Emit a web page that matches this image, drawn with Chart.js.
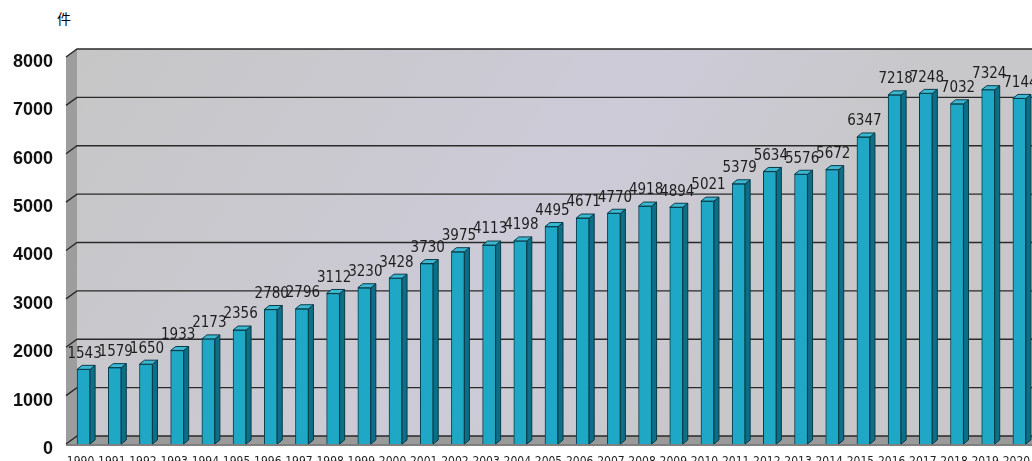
<!DOCTYPE html>
<html>
<head>
<meta charset="utf-8">
<script src="https://cdn.jsdelivr.net/npm/chart.js@4"></script>
<style>
  html, body { margin: 0; padding: 0; background: #fff; overflow: hidden; width: 1032px; height: 461px; }
  #wrap { position: absolute; left: 0; top: 0; width: 1045px; height: 470px; }
  #unit { position: absolute; left: 57px; top: 8px; font: 14px "Noto Sans CJK JP", sans-serif; color: #000; }
</style>
</head>
<body>
<div id="unit">件</div>
<div id="wrap"><canvas id="chart"></canvas></div>
<script>
// ===== DATA =====
const years = ['1990', '1991', '1992', '1993', '1994', '1995', '1996', '1997', '1998', '1999',
               '2000', '2001', '2002', '2003', '2004', '2005', '2006', '2007', '2008', '2009',
               '2010', '2011', '2012', '2013', '2014', '2015', '2016', '2017', '2018', '2019', '2020'];
const counts = [1543, 1579, 1650, 1933, 2173, 2356, 2780, 2796, 3112, 3230,
                3428, 3730, 3975, 4113, 4198, 4495, 4671, 4770, 4918, 4894,
                5021, 5379, 5634, 5576, 5672, 6347, 7218, 7248, 7032, 7324, 7144];
const yTicks = [0, 1000, 2000, 3000, 4000, 5000, 6000, 7000, 8000];

// depth of the walls and of the bars (pseudo 3D)
const WALL_DX = 11, WALL_DY = -8;
const BAR_DX = 5, BAR_DY = -4;
const NARROW = '"Liberation Sans Narrow", "DejaVu Sans Condensed", sans-serif';

const wallPlugin = {
    id: 'wall3d',
    beforeDatasetsDraw(chart) {
        const { ctx, chartArea, scales } = chart;
        const y = scales.y;
        const left = chartArea.left - 2;
        const right = chartArea.right + 20;
        const top = y.getPixelForValue(8000);
        const base = y.getPixelForValue(0);
        ctx.save();

        // back wall
        const g = ctx.createLinearGradient(left, top, left + 600, base);
        g.addColorStop(0, '#c6c6c6');
        g.addColorStop(0.4, '#cac9d0');
        g.addColorStop(0.7, '#cdcbd8');
        g.addColorStop(1, '#c8c8cb');
        ctx.fillStyle = g;
        ctx.fillRect(left + WALL_DX, top + WALL_DY, right - left, base - top);

        // left side wall
        ctx.fillStyle = '#9d9d9d';
        ctx.beginPath();
        ctx.moveTo(left, top);
        ctx.lineTo(left + WALL_DX, top + WALL_DY);
        ctx.lineTo(left + WALL_DX, base + WALL_DY);
        ctx.lineTo(left, base);
        ctx.closePath();
        ctx.fill();

        // floor
        ctx.fillStyle = '#9a9a9a';
        ctx.beginPath();
        ctx.moveTo(left, base);
        ctx.lineTo(left + WALL_DX, base + WALL_DY);
        ctx.lineTo(right, base + WALL_DY);
        ctx.lineTo(right, base);
        ctx.closePath();
        ctx.fill();

        // grid lines on the back wall
        ctx.strokeStyle = '#2a2a2a';
        ctx.lineWidth = 1.4;
        yTicks.forEach(v => {
            const py = y.getPixelForValue(v);
            ctx.beginPath();
            ctx.moveTo(left, py);
            ctx.lineTo(left + WALL_DX, py + WALL_DY);
            ctx.lineTo(right, py + WALL_DY);
            ctx.stroke();
        });
        ctx.strokeStyle = '#555';
        ctx.beginPath();
        ctx.moveTo(left, base + 1);
        ctx.lineTo(right, base + 1);
        ctx.stroke();
        ctx.restore();
    },
    afterDatasetsDraw(chart) {
        const { ctx } = chart;
        const meta = chart.getDatasetMeta(0);
        ctx.save();
        meta.data.forEach((bar, i) => {
            const half = bar.width / 2;
            const x0 = bar.x - half, x1 = bar.x + half;
            const yt = bar.y, yb = bar.base;

            // side face
            ctx.fillStyle = '#0c6f87';
            ctx.strokeStyle = '#083b48';
            ctx.lineWidth = 1;
            ctx.beginPath();
            ctx.moveTo(x1, yt);
            ctx.lineTo(x1 + BAR_DX, yt + BAR_DY);
            ctx.lineTo(x1 + BAR_DX, yb + BAR_DY);
            ctx.lineTo(x1, yb);
            ctx.closePath();
            ctx.fill();
            ctx.stroke();

            // top face
            ctx.fillStyle = '#3cb8d2';
            ctx.beginPath();
            ctx.moveTo(x0, yt);
            ctx.lineTo(x0 + BAR_DX, yt + BAR_DY);
            ctx.lineTo(x1 + BAR_DX, yt + BAR_DY);
            ctx.lineTo(x1, yt);
            ctx.closePath();
            ctx.fill();
            ctx.stroke();

            // value label
            ctx.fillStyle = '#1e1e1e';
            ctx.font = '15px ' + NARROW;
            ctx.textAlign = 'center';
            ctx.textBaseline = 'bottom';
            ctx.fillText(String(counts[i]), bar.x + 1, yt - 8);
        });
        ctx.restore();
    }
};

new Chart(document.getElementById('chart'), {
    type: 'bar',
    data: {
        labels: years,
        datasets: [{
            data: counts,
            backgroundColor: '#1fa8c6',
            borderColor: '#083b48',
            borderWidth: 1,
            barThickness: 13
        }]
    },
    options: {
        responsive: true,
        maintainAspectRatio: false,
        animation: false,
        layout: { padding: { top: 57, right: 10, left: 0, bottom: 0 } },
        plugins: {
            legend: { display: false },
            tooltip: { enabled: false }
        },
        scales: {
            x: {
                grid: { display: false },
                border: { display: false },
                ticks: {
                    color: '#1e1e1e',
                    font: { family: NARROW, size: 12 },
                    maxRotation: 0,
                    autoSkip: false,
                    padding: 3,
                    labelOffset: -3
                },
                afterFit: (axis) => { axis.height = 26; }
            },
            y: {
                min: 0,
                max: 8000,
                grid: { display: false },
                border: { display: false },
                ticks: {
                    stepSize: 1000,
                    color: '#111',
                    padding: 7,
                    labelOffset: 5,
                    font: { family: 'Liberation Sans, Arial, sans-serif', size: 18, weight: 'bold' },
                    callback: (v) => String(v)
                },
                afterFit: (axis) => { axis.width = 68; }
            }
        }
    },
    plugins: [wallPlugin]
});
</script>
</body>
</html>
